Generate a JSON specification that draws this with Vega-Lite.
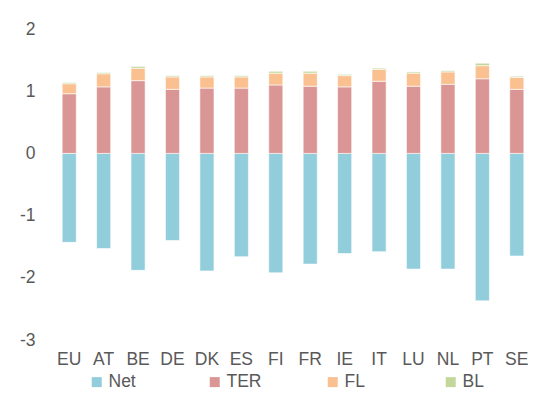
{
  "$schema": "https://vega.github.io/schema/vega-lite/v6.json",
  "width": 482,
  "height": 311,
  "autosize": "none",
  "padding": {"left": 52, "top": 29, "right": 11, "bottom": 54},
  "background": "white",
  "config": {"view": {"stroke": null}, "font": "Liberation Sans"},
  "data": {"values": [
    {"c":"EU","s":"Net","k":1,"v":-1.43},{"c":"EU","s":"TER","k":2,"v":0.96},{"c":"EU","s":"FL","k":3,"v":0.16},{"c":"EU","s":"BL","k":4,"v":0.02},
    {"c":"AT","s":"Net","k":1,"v":-1.53},{"c":"AT","s":"TER","k":2,"v":1.07},{"c":"AT","s":"FL","k":3,"v":0.21},{"c":"AT","s":"BL","k":4,"v":0.02},
    {"c":"BE","s":"Net","k":1,"v":-1.88},{"c":"BE","s":"TER","k":2,"v":1.17},{"c":"BE","s":"FL","k":3,"v":0.20},{"c":"BE","s":"BL","k":4,"v":0.03},
    {"c":"DE","s":"Net","k":1,"v":-1.40},{"c":"DE","s":"TER","k":2,"v":1.03},{"c":"DE","s":"FL","k":3,"v":0.20},{"c":"DE","s":"BL","k":4,"v":0.02},
    {"c":"DK","s":"Net","k":1,"v":-1.89},{"c":"DK","s":"TER","k":2,"v":1.05},{"c":"DK","s":"FL","k":3,"v":0.18},{"c":"DK","s":"BL","k":4,"v":0.02},
    {"c":"ES","s":"Net","k":1,"v":-1.66},{"c":"ES","s":"TER","k":2,"v":1.05},{"c":"ES","s":"FL","k":3,"v":0.18},{"c":"ES","s":"BL","k":4,"v":0.02},
    {"c":"FI","s":"Net","k":1,"v":-1.92},{"c":"FI","s":"TER","k":2,"v":1.10},{"c":"FI","s":"FL","k":3,"v":0.19},{"c":"FI","s":"BL","k":4,"v":0.03},
    {"c":"FR","s":"Net","k":1,"v":-1.78},{"c":"FR","s":"TER","k":2,"v":1.08},{"c":"FR","s":"FL","k":3,"v":0.21},{"c":"FR","s":"BL","k":4,"v":0.03},
    {"c":"IE","s":"Net","k":1,"v":-1.61},{"c":"IE","s":"TER","k":2,"v":1.07},{"c":"IE","s":"FL","k":3,"v":0.18},{"c":"IE","s":"BL","k":4,"v":0.02},
    {"c":"IT","s":"Net","k":1,"v":-1.58},{"c":"IT","s":"TER","k":2,"v":1.16},{"c":"IT","s":"FL","k":3,"v":0.19},{"c":"IT","s":"BL","k":4,"v":0.02},
    {"c":"LU","s":"Net","k":1,"v":-1.86},{"c":"LU","s":"TER","k":2,"v":1.08},{"c":"LU","s":"FL","k":3,"v":0.21},{"c":"LU","s":"BL","k":4,"v":0.02},
    {"c":"NL","s":"Net","k":1,"v":-1.86},{"c":"NL","s":"TER","k":2,"v":1.11},{"c":"NL","s":"FL","k":3,"v":0.20},{"c":"NL","s":"BL","k":4,"v":0.02},
    {"c":"PT","s":"Net","k":1,"v":-2.37},{"c":"PT","s":"TER","k":2,"v":1.20},{"c":"PT","s":"FL","k":3,"v":0.21},{"c":"PT","s":"BL","k":4,"v":0.04},
    {"c":"SE","s":"Net","k":1,"v":-1.65},{"c":"SE","s":"TER","k":2,"v":1.03},{"c":"SE","s":"FL","k":3,"v":0.19},{"c":"SE","s":"BL","k":4,"v":0.02}
  ]},
  "mark": {"type": "bar", "stroke": "white", "strokeWidth": 1, "strokeOpacity": 0.6},
  "encoding": {
    "x": {
      "field": "c", "type": "nominal", "sort": null,
      "scale": {"paddingInner": 0.59, "paddingOuter": 0.295},
      "axis": {"title": null, "labelAngle": 0, "domain": false, "ticks": false, "labelPadding": 10, "labelFontSize": 17.5, "labelColor": "#595959", "grid": false}
    },
    "y": {
      "field": "v", "type": "quantitative", "stack": "zero",
      "scale": {"domain": [-3, 2], "nice": false},
      "axis": {"title": null, "values": [-3, -2, -1, 0, 1, 2], "labelExpr": "replace(datum.label, '−', '-')", "domain": false, "ticks": false, "grid": false, "labelPadding": 17, "labelFontSize": 17.5, "labelColor": "#595959"}
    },
    "color": {
      "field": "s", "type": "nominal",
      "scale": {"domain": ["Net", "TER", "FL", "BL"], "range": ["#92CDDC", "#DA9694", "#FAC090", "#C4D79B"]},
      "legend": {"title": null, "orient": "none", "legendX": 36, "legendY": 344, "direction": "horizontal", "columns": 4, "gridAlign": "all", "columnPadding": 62, "symbolType": "square", "symbolSize": 100, "symbolStrokeWidth": 0, "symbolOffset": 0, "labelOffset": 3, "labelFontSize": 17.5, "labelColor": "#595959"}
    },
    "order": {"field": "k", "type": "quantitative"}
  }
}
